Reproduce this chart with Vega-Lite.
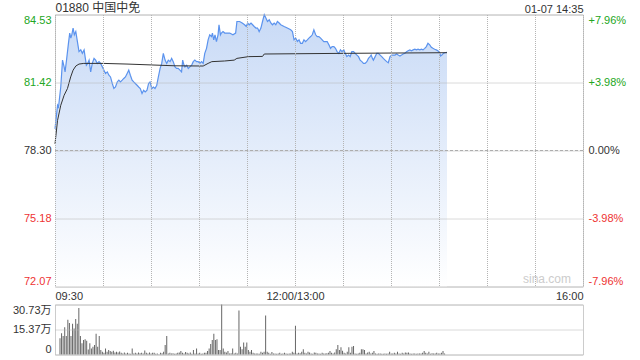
{
  "$schema": "https://vega.github.io/schema/vega-lite/v6.json",
  "background": "white",
  "padding": {"left": 11, "top": 0.5, "right": 5, "bottom": 0},
  "bounds": "flush",
  "spacing": 18,
  "config": {
    "font": "Liberation Sans, Noto Sans CJK SC",
    "view": {"stroke": "#cccccc"},
    "axis": {
      "labelFont": "Liberation Sans, Noto Sans CJK SC",
      "titleFont": "Liberation Sans, Noto Sans CJK SC",
      "labelFontSize": 11,
      "titleFontSize": 12,
      "titleFontWeight": "normal",
      "titleColor": "#333333"
    }
  },
  "datasets": {
    "price": [
      {"t":0,"p":79.29},{"t":1.6,"p":80.37},{"t":2.2,"p":80.29},{"t":3.6,"p":81.21},{"t":4.7,"p":82.44},{"t":5.7,"p":82.13},{"t":6.3,"p":81.9},{"t":7.2,"p":82.44},{"t":8.4,"p":83.21},{"t":9.2,"p":83.68},{"t":9.9,"p":83.45},{"t":10.5,"p":83.6},{"t":11.3,"p":83.91},{"t":12.1,"p":83.6},{"t":13,"p":83.75},{"t":14,"p":83.29},{"t":15,"p":82.83},{"t":16.1,"p":82.91},{"t":17.1,"p":82.75},{"t":18.2,"p":82.91},{"t":18.8,"p":82.6},{"t":19.6,"p":82.21},{"t":20.4,"p":82.29},{"t":21.3,"p":82.44},{"t":22.3,"p":81.9},{"t":23.3,"p":82.29},{"t":24.4,"p":82.52},{"t":25.4,"p":82.44},{"t":26.4,"p":82.29},{"t":27.5,"p":82.37},{"t":28.5,"p":82.29},{"t":29.6,"p":82.13},{"t":30.6,"p":81.98},{"t":31.6,"p":81.83},{"t":32.7,"p":81.9},{"t":33.7,"p":81.75},{"t":34.7,"p":81.67},{"t":35.8,"p":81.37},{"t":36.8,"p":81.14},{"t":37.8,"p":81.21},{"t":38.9,"p":81.44},{"t":39.9,"p":81.52},{"t":40.9,"p":81.44},{"t":42,"p":81.52},{"t":43,"p":81.6},{"t":44,"p":81.67},{"t":45.1,"p":81.83},{"t":46.1,"p":81.98},{"t":47.1,"p":81.75},{"t":48.2,"p":81.52},{"t":49.2,"p":81.44},{"t":50.2,"p":81.37},{"t":51.3,"p":81.29},{"t":52.3,"p":81.21},{"t":53.3,"p":81.14},{"t":54.4,"p":80.91},{"t":55.4,"p":81.06},{"t":56.4,"p":80.98},{"t":57.5,"p":81.06},{"t":58.5,"p":81.37},{"t":59.4,"p":81.44},{"t":60.5,"p":81.14},{"t":61.5,"p":81.21},{"t":62.5,"p":81.14},{"t":63.6,"p":81.29},{"t":64.6,"p":81.67},{"t":65.7,"p":82.06},{"t":66.7,"p":82.29},{"t":67.7,"p":82.75},{"t":68.8,"p":82.44},{"t":69.8,"p":82.29},{"t":70.8,"p":82.44},{"t":71.9,"p":82.37},{"t":72.9,"p":82.52},{"t":73.9,"p":82.37},{"t":75,"p":82.13},{"t":76,"p":82.06},{"t":77,"p":82.06},{"t":78.1,"p":81.98},{"t":79.1,"p":81.9},{"t":79.8,"p":82.44},{"t":80.6,"p":82.21},{"t":81.2,"p":82.13},{"t":82.3,"p":82.21},{"t":83.3,"p":82.06},{"t":84.3,"p":82.13},{"t":85.4,"p":82.21},{"t":86.4,"p":82.37},{"t":87.4,"p":82.44},{"t":88.5,"p":82.37},{"t":89.5,"p":82.37},{"t":90.5,"p":82.29},{"t":91.6,"p":82.37},{"t":92.6,"p":82.29},{"t":93.6,"p":82.75},{"t":94.7,"p":82.98},{"t":95.7,"p":83.37},{"t":96.7,"p":83.6},{"t":97.8,"p":83.52},{"t":98.4,"p":83.68},{"t":99.2,"p":83.37},{"t":100,"p":83.6},{"t":100.9,"p":83.29},{"t":101.9,"p":83.6},{"t":102.5,"p":84.06},{"t":103.4,"p":83.6},{"t":104,"p":83.68},{"t":105,"p":83.75},{"t":106.1,"p":83.68},{"t":107.1,"p":83.68},{"t":109.2,"p":83.68},{"t":111.2,"p":83.6},{"t":112.9,"p":83.68},{"t":113.7,"p":84.21},{"t":115.4,"p":84.21},{"t":117,"p":84.14},{"t":118.5,"p":84.06},{"t":119.5,"p":83.98},{"t":120.4,"p":84.14},{"t":121.4,"p":84.06},{"t":122.5,"p":84.14},{"t":123.5,"p":84.06},{"t":124.5,"p":83.98},{"t":125.6,"p":83.91},{"t":126.6,"p":83.91},{"t":127.6,"p":83.75},{"t":128.7,"p":83.91},{"t":129.7,"p":84.21},{"t":130.8,"p":84.52},{"t":131.8,"p":84.37},{"t":132.8,"p":84.21},{"t":133.9,"p":84.29},{"t":134.9,"p":84.14},{"t":135.9,"p":84.06},{"t":137,"p":84.14},{"t":138,"p":84.06},{"t":139,"p":84.21},{"t":140.1,"p":84.14},{"t":141.1,"p":84.06},{"t":143.2,"p":83.98},{"t":145.2,"p":83.91},{"t":147.3,"p":83.83},{"t":148.4,"p":83.75},{"t":149.4,"p":83.37},{"t":150.4,"p":83.45},{"t":151.5,"p":83.29},{"t":152.5,"p":83.37},{"t":153.5,"p":83.21},{"t":154.6,"p":83.21},{"t":155.6,"p":83.37},{"t":156.6,"p":83.29},{"t":157.7,"p":83.37},{"t":158.7,"p":83.45},{"t":159.8,"p":83.52},{"t":160.8,"p":83.6},{"t":161.8,"p":83.83},{"t":162.9,"p":83.6},{"t":163.9,"p":83.52},{"t":164.9,"p":83.52},{"t":166,"p":83.45},{"t":167,"p":83.37},{"t":168,"p":83.29},{"t":170.1,"p":83.29},{"t":171.2,"p":83.14},{"t":172.2,"p":82.98},{"t":173.2,"p":83.06},{"t":174.3,"p":83.06},{"t":175.3,"p":82.98},{"t":176.3,"p":82.83},{"t":177.4,"p":82.75},{"t":178.4,"p":82.91},{"t":179.4,"p":82.83},{"t":180.5,"p":82.91},{"t":181.4,"p":82.75},{"t":182.4,"p":82.6},{"t":183.5,"p":82.67},{"t":184.5,"p":82.6},{"t":185.5,"p":82.83},{"t":186.6,"p":82.83},{"t":187.6,"p":82.75},{"t":188.7,"p":82.67},{"t":189.7,"p":82.6},{"t":190.7,"p":82.44},{"t":191.8,"p":82.37},{"t":192.8,"p":82.29},{"t":193.8,"p":82.29},{"t":194.9,"p":82.37},{"t":195.9,"p":82.52},{"t":196.9,"p":82.6},{"t":197.6,"p":82.67},{"t":198.4,"p":82.52},{"t":199,"p":82.44},{"t":200.1,"p":82.6},{"t":201.1,"p":82.75},{"t":202.1,"p":82.75},{"t":203.2,"p":82.67},{"t":204.2,"p":82.6},{"t":205.2,"p":82.52},{"t":206.3,"p":82.44},{"t":207.3,"p":82.37},{"t":208.3,"p":82.32},{"t":209.4,"p":82.6},{"t":210.4,"p":82.67},{"t":211.4,"p":82.67},{"t":212.5,"p":82.67},{"t":213.5,"p":82.72},{"t":214.5,"p":82.67},{"t":215.6,"p":82.63},{"t":216.6,"p":82.67},{"t":217.6,"p":82.72},{"t":218.7,"p":82.75},{"t":219.7,"p":82.83},{"t":220.7,"p":82.87},{"t":221.8,"p":82.91},{"t":222.8,"p":82.87},{"t":223.8,"p":82.91},{"t":224.9,"p":82.94},{"t":225.9,"p":82.91},{"t":226.9,"p":82.94},{"t":228,"p":82.91},{"t":229,"p":82.94},{"t":230,"p":82.91},{"t":231.1,"p":82.98},{"t":232.1,"p":83.06},{"t":233.1,"p":83.21},{"t":234.2,"p":83.14},{"t":235.2,"p":83.03},{"t":236.2,"p":82.98},{"t":237.3,"p":82.94},{"t":238.3,"p":82.91},{"t":239.3,"p":82.87},{"t":240.4,"p":82.78},{"t":241,"p":82.63},{"t":241.8,"p":82.67},{"t":242.7,"p":82.75},{"t":243.5,"p":82.78},{"t":245,"p":82.8}
    ],
    "avg": [
      {"t":0,"p":78.6},{"t":1.6,"p":79.68},{"t":3.6,"p":80.37},{"t":5.7,"p":80.83},{"t":7.8,"p":81.14},{"t":9.8,"p":81.67},{"t":11.3,"p":81.98},{"t":13,"p":82.17},{"t":15,"p":82.26},{"t":18,"p":82.29},{"t":30,"p":82.29},{"t":45,"p":82.26},{"t":60,"p":82.22},{"t":75,"p":82.18},{"t":92.6,"p":82.17},{"t":95.7,"p":82.29},{"t":98,"p":82.37},{"t":106,"p":82.4},{"t":112,"p":82.44},{"t":113.7,"p":82.52},{"t":121,"p":82.6},{"t":129.7,"p":82.61},{"t":130.8,"p":82.72},{"t":180,"p":82.75},{"t":245,"p":82.78}
    ],
    "vol": [
      {"t":0,"v":10.0},{"t":1,"v":13.1},{"t":2,"v":11.4},{"t":3,"v":16.8},{"t":4,"v":11.4},{"t":5,"v":21.4},{"t":6,"v":19.3},{"t":7,"v":11.4},{"t":8,"v":18.9},{"t":9,"v":16.0},{"t":10,"v":21.8},{"t":11,"v":18.9},{"t":12,"v":28.6},{"t":13,"v":11.4},{"t":14,"v":6.9},{"t":15,"v":8.9},{"t":16,"v":9.3},{"t":17,"v":8.5},{"t":18,"v":3.1},{"t":19,"v":6.9},{"t":20,"v":3.7},{"t":21,"v":4.8},{"t":22,"v":5.8},{"t":23,"v":12.7},{"t":24,"v":4.8},{"t":25,"v":11.4},{"t":26,"v":2.7},{"t":27,"v":1.7},{"t":28,"v":1.0},{"t":29,"v":3.7},{"t":30,"v":1.7},{"t":31,"v":2.7},{"t":32,"v":2.1},{"t":33,"v":1.7},{"t":34,"v":2.3},{"t":35,"v":1.2},{"t":36,"v":1.7},{"t":37,"v":1.2},{"t":38,"v":1.9},{"t":39,"v":1.0},{"t":40,"v":0.6},{"t":41,"v":1.2},{"t":42,"v":0.6},{"t":43,"v":1.0},{"t":44,"v":0.6},{"t":45,"v":0.4},{"t":46,"v":3.7},{"t":47,"v":0.6},{"t":48,"v":1.0},{"t":49,"v":0.6},{"t":50,"v":1.2},{"t":51,"v":0.8},{"t":52,"v":1.0},{"t":53,"v":0.6},{"t":54,"v":2.5},{"t":55,"v":1.0},{"t":56,"v":0.6},{"t":57,"v":1.2},{"t":58,"v":0.6},{"t":59,"v":1.0},{"t":60,"v":1.0},{"t":61,"v":0.4},{"t":62,"v":0.6},{"t":63,"v":0.2},{"t":64,"v":1.0},{"t":65,"v":0.8},{"t":66,"v":1.7},{"t":67,"v":5.8},{"t":68,"v":11.4},{"t":69,"v":0.6},{"t":70,"v":1.0},{"t":71,"v":0.6},{"t":72,"v":0.8},{"t":73,"v":0.4},{"t":74,"v":0.6},{"t":75,"v":1.0},{"t":76,"v":1.2},{"t":77,"v":2.1},{"t":78,"v":1.0},{"t":79,"v":0.6},{"t":80,"v":1.5},{"t":81,"v":1.0},{"t":82,"v":0.6},{"t":83,"v":1.2},{"t":84,"v":0.4},{"t":85,"v":2.7},{"t":86,"v":0.6},{"t":87,"v":3.7},{"t":88,"v":0.6},{"t":89,"v":1.0},{"t":90,"v":0.4},{"t":91,"v":0.6},{"t":92,"v":1.0},{"t":93,"v":1.0},{"t":94,"v":2.1},{"t":95,"v":3.7},{"t":96,"v":6.4},{"t":97,"v":8.9},{"t":98,"v":12.7},{"t":99,"v":8.9},{"t":100,"v":9.3},{"t":101,"v":2.7},{"t":102,"v":2.7},{"t":103,"v":30.7},{"t":104,"v":3.7},{"t":105,"v":1.7},{"t":106,"v":1.2},{"t":107,"v":2.1},{"t":108,"v":0.6},{"t":109,"v":0.8},{"t":110,"v":3.7},{"t":111,"v":0.6},{"t":112,"v":1.0},{"t":113,"v":0.6},{"t":114,"v":27.0},{"t":115,"v":4.8},{"t":116,"v":3.3},{"t":117,"v":7.3},{"t":118,"v":4.8},{"t":119,"v":7.3},{"t":120,"v":2.7},{"t":121,"v":1.7},{"t":122,"v":2.7},{"t":123,"v":1.0},{"t":124,"v":0.6},{"t":125,"v":0.6},{"t":126,"v":0.6},{"t":127,"v":0.4},{"t":128,"v":1.7},{"t":129,"v":1.0},{"t":130,"v":1.7},{"t":131,"v":23.9},{"t":132,"v":1.7},{"t":133,"v":1.0},{"t":134,"v":0.4},{"t":135,"v":1.5},{"t":136,"v":0.6},{"t":137,"v":0.6},{"t":138,"v":0.4},{"t":139,"v":0.6},{"t":140,"v":1.0},{"t":141,"v":0.4},{"t":142,"v":0.6},{"t":143,"v":1.0},{"t":144,"v":0.6},{"t":145,"v":0.4},{"t":146,"v":0.6},{"t":147,"v":0.6},{"t":148,"v":1.7},{"t":149,"v":1.0},{"t":150,"v":17.6},{"t":151,"v":0.6},{"t":152,"v":1.0},{"t":153,"v":0.8},{"t":154,"v":1.7},{"t":155,"v":3.3},{"t":156,"v":1.0},{"t":157,"v":0.6},{"t":158,"v":1.7},{"t":159,"v":1.2},{"t":160,"v":0.6},{"t":161,"v":0.4},{"t":162,"v":1.2},{"t":163,"v":1.0},{"t":164,"v":0.6},{"t":165,"v":0.6},{"t":166,"v":0.4},{"t":167,"v":1.0},{"t":168,"v":0.6},{"t":169,"v":0.6},{"t":170,"v":0.8},{"t":171,"v":1.0},{"t":172,"v":2.1},{"t":173,"v":1.0},{"t":174,"v":0.6},{"t":175,"v":1.2},{"t":176,"v":3.3},{"t":177,"v":5.8},{"t":178,"v":2.7},{"t":179,"v":4.4},{"t":180,"v":2.3},{"t":181,"v":1.0},{"t":182,"v":0.6},{"t":183,"v":1.7},{"t":184,"v":4.4},{"t":185,"v":1.0},{"t":186,"v":4.8},{"t":187,"v":5.2},{"t":188,"v":0.6},{"t":189,"v":0.4},{"t":190,"v":0.6},{"t":191,"v":1.0},{"t":192,"v":3.3},{"t":193,"v":3.3},{"t":194,"v":2.7},{"t":195,"v":0.6},{"t":196,"v":1.2},{"t":197,"v":1.7},{"t":198,"v":0.6},{"t":199,"v":1.0},{"t":200,"v":2.1},{"t":201,"v":0.6},{"t":202,"v":0.4},{"t":203,"v":0.6},{"t":204,"v":0.6},{"t":205,"v":0.4},{"t":206,"v":0.4},{"t":207,"v":0.6},{"t":208,"v":0.4},{"t":209,"v":0.6},{"t":210,"v":1.7},{"t":211,"v":0.6},{"t":212,"v":0.6},{"t":213,"v":1.0},{"t":214,"v":0.6},{"t":215,"v":1.7},{"t":216,"v":0.6},{"t":217,"v":0.4},{"t":218,"v":1.0},{"t":219,"v":0.6},{"t":220,"v":1.2},{"t":221,"v":1.0},{"t":222,"v":1.2},{"t":223,"v":0.6},{"t":224,"v":0.4},{"t":225,"v":0.6},{"t":226,"v":0.6},{"t":227,"v":0.4},{"t":228,"v":0.6},{"t":229,"v":0.6},{"t":230,"v":0.6},{"t":231,"v":1.0},{"t":232,"v":2.1},{"t":233,"v":1.0},{"t":234,"v":0.6},{"t":235,"v":1.7},{"t":236,"v":0.4},{"t":237,"v":0.8},{"t":238,"v":0.6},{"t":239,"v":0.6},{"t":240,"v":1.0},{"t":241,"v":0.6},{"t":242,"v":0.6},{"t":243,"v":1.0},{"t":244,"v":2.1},{"t":245,"v":0.6}
    ]
  },
  "vconcat": [
    {
      "width": 528,
      "height": 272,
      "layer": [
        {
          "data": {"name": "price"},
          "mark": {"type": "area", "color": {"gradient": "linear", "x1": 0, "y1": 0, "x2": 0, "y2": 1, "stops": [{"offset": 0, "color": "#c8daf6"}, {"offset": 1, "color": "#ffffff"}]}},
          "encoding": {
            "x": {"field": "t", "type": "quantitative", "scale": {"domain": [0, 330], "nice": false, "zero": false},
                  "axis": {"orient": "bottom", "values": [0, 30, 60, 90, 120, 150, 180, 210, 240, 270, 300, 330],
                           "labelExpr": "datum.value == 0 ? '09:30' : datum.value == 150 ? '12:00/13:00' : datum.value == 330 ? '16:00' : ''",
                           "labelFlush": true, "labelOverlap": false, "ticks": false, "domain": false, "grid": true, "zindex": 1,
                           "gridColor": "#b4b4b4", "gridDash": [1, 1], "gridWidth": 1, "title": null, "labelPadding": 4, "labelColor": "#333333"}},
            "y": {"field": "p", "type": "quantitative", "scale": {"domain": [72.07, 84.53], "nice": false, "zero": false},
                  "axis": {"orient": "left", "values": [72.07, 75.185, 78.3, 81.415, 84.53],
                           "labelExpr": "datum.value > 84 ? '84.53' : datum.value > 81 ? '81.42' : datum.value > 78 ? '78.30' : datum.value > 75 ? '75.18' : '72.07'",
                           "labelFlush": true, "ticks": false, "domain": false, "grid": true, "zindex": 1, "gridColor": "#b4b4b4",
                           "gridDash": [1, 1], "gridWidth": 1, "title": null, "labelPadding": 4,
                           "labelColor": {"condition": [{"test": "datum.value > 78.31", "value": "#22a622"}, {"test": "datum.value < 78.29", "value": "#ee3333"}], "value": "#333333"}}},
            "y2": {"datum": 72.07}
          }
        },
        {
          "data": {"values": [{"prevClose": 78.3}]},
          "mark": {"type": "rule", "color": "#aaaaaa", "strokeDash": [3, 2], "strokeWidth": 1},
          "encoding": {"y": {"field": "prevClose", "type": "quantitative", "axis": null}}
        },
        {
          "data": {"name": "price"},
          "mark": {"type": "line", "color": "#5b93ee", "strokeWidth": 1.2},
          "encoding": {
            "x": {"field": "t", "type": "quantitative",
                  "axis": {"orient": "top", "title": "01880 中国中免", "titleAnchor": "start", "labels": false, "ticks": false,
                           "domain": false, "grid": false, "titlePadding": 0}},
            "y": {"field": "p", "type": "quantitative", "axis": null}
          }
        },
        {
          "data": {"name": "avg"},
          "mark": {"type": "line", "color": "#333333", "strokeWidth": 1},
          "encoding": {
            "x": {"field": "t", "type": "quantitative",
                  "axis": {"orient": "top", "title": "01-07 14:35", "titleAnchor": "end", "titleFontSize": 11, "labels": false, "ticks": false,
                           "domain": false, "grid": false, "titlePadding": 0}},
            "y": {"field": "p", "type": "quantitative",
                  "axis": {"orient": "right", "values": [72.07, 75.185, 78.3, 81.415, 84.53],
                           "labelExpr": "datum.value > 84 ? '+7.96%' : datum.value > 81 ? '+3.98%' : datum.value > 78 ? '0.00%' : datum.value > 75 ? '-3.98%' : '-7.96%'",
                           "labelFlush": true, "ticks": false, "domain": false, "grid": false, "title": null, "labelPadding": 5,
                           "labelColor": {"condition": [{"test": "datum.value > 78.31", "value": "#22a622"}, {"test": "datum.value < 78.29", "value": "#ee3333"}], "value": "#333333"}}}
          }
        },
        {
          "data": {"values": [{"t": 330, "p": 72.07, "label": "sina.com"}]},
          "mark": {"type": "text", "align": "right", "baseline": "bottom", "dx": -12, "dy": -1, "color": "#cccccc", "fontSize": 12},
          "encoding": {
            "x": {"field": "t", "type": "quantitative", "axis": null},
            "y": {"field": "p", "type": "quantitative", "axis": null},
            "text": {"field": "label"}
          }
        }
      ],
      "resolve": {"axis": {"x": "independent", "y": "independent"}}
    },
    {
      "width": 528,
      "height": 50,
      "data": {"name": "vol"},
      "mark": {"type": "bar", "color": "#666666", "size": 1},
      "encoding": {
        "x": {"field": "t", "type": "quantitative", "scale": {"domain": [0, 330], "nice": false, "zero": false}, "axis": null},
        "y": {"field": "v", "type": "quantitative", "scale": {"domain": [0, 30.73], "nice": false},
              "axis": {"values": [0, 15.365, 30.73],
                       "labelExpr": "datum.value > 30 ? '30.73万' : datum.value > 10 ? '15.37万' : '0'",
                       "labelFlush": true, "ticks": false, "domain": false, "grid": true, "zindex": 1, "gridColor": "#b4b4b4",
                       "gridDash": [1, 1], "title": null, "labelPadding": 4, "labelColor": "#333333"}}
      }
    }
  ]
}
